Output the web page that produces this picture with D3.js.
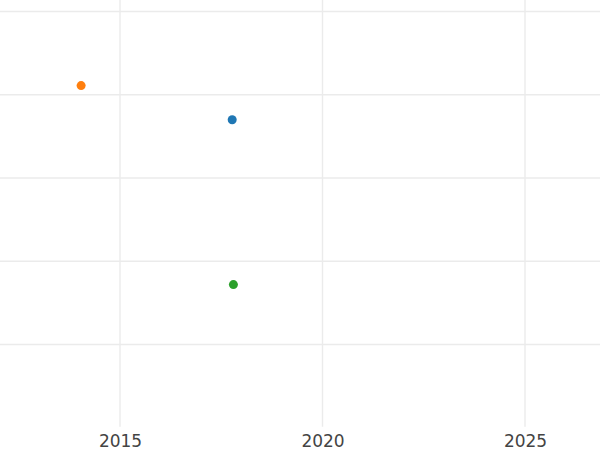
<!DOCTYPE html>
<html>
<head>
<meta charset="utf-8">
<script src="https://cdn.jsdelivr.net/npm/d3@7"></script>
<style>
  html, body { margin: 0; padding: 0; background: #fff; }
  svg { display: block; }
</style>
</head>
<body>
<svg id="chart" width="600" height="450"></svg>
<script>
// Data
const seriesNames = ["A", "B", "C"];
const xValues = [2017.77, 2014.04, 2017.80];
const yValues = [3.70, 4.11, 1.72];
const colors = ["#1f77b4", "#ff7f0e", "#2ca02c"];
const xTicks = [2015, 2020, 2025];
const yTicks = [1, 2, 3, 4, 5];

const width = 600, height = 450;
const plotBottom = 427.75;
const svg = d3.select("#chart");

const x = d3.scaleLinear()
  .domain([2015 - 120 / 40.5, 2025 + 75 / 40.5])
  .range([0, width]);
const y = d3.scaleLinear()
  .domain([0, 5 + 11.5 / 83.25])
  .range([plotBottom, 0]);

// Gridlines
const grid = svg.append("g");
grid.selectAll("line.v").data(xTicks).join("line")
  .attr("class", "v")
  .attr("x1", d => x(d)).attr("x2", d => x(d))
  .attr("y1", 0).attr("y2", plotBottom - 1)
  .attr("stroke", "#ebebeb").attr("stroke-width", 1.4);
grid.selectAll("line.h").data(yTicks).join("line")
  .attr("class", "h")
  .attr("x1", 0).attr("x2", width)
  .attr("y1", d => y(d)).attr("y2", d => y(d))
  .attr("stroke", "#ebebeb").attr("stroke-width", 1.4);

// X axis labels
const xAxis = d3.axisBottom(x).tickValues(xTicks).tickFormat(d3.format("d")).tickSize(0).tickPadding(0);
const gx = svg.append("g").attr("transform", `translate(0, ${plotBottom})`).call(xAxis);
gx.select(".domain").remove();
gx.selectAll("text")
  .attr("y", 19)
  .attr("dy", 0)
  .attr("fill", "#444")
  .style("font-family", "'DejaVu Sans', sans-serif")
  .style("font-size", "17px");

// Points
const pts = seriesNames.map((s, i) => ({ s, x: xValues[i], y: yValues[i], c: colors[i] }));
svg.append("g").selectAll("circle").data(pts).join("circle")
  .attr("cx", d => x(d.x))
  .attr("cy", d => y(d.y))
  .attr("r", 4.5)
  .attr("fill", d => d.c);
</script>
</body>
</html>
